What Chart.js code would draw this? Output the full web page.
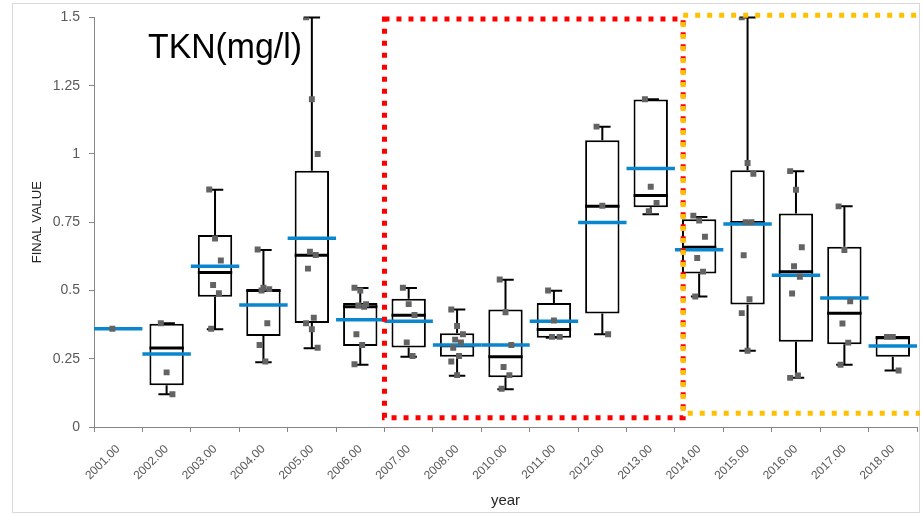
<!DOCTYPE html>
<html>
<head>
<meta charset="utf-8">
<script src="https://cdn.jsdelivr.net/npm/chart.js@4.4.1/dist/chart.umd.min.js"></script>
<style>
  html, body { margin: 0; padding: 0; background: #fff; }
  #wrap { width: 922px; height: 514px; }
</style>
</head>
<body>
<div id="wrap"><canvas id="tknChart" width="922" height="514"></canvas></div>
<script>
// categories (no 2009 in the source data)
const years = ['2001.00', '2002.00', '2003.00', '2004.00', '2005.00', '2006.00', '2007.00', '2008.00',
    '2010.00', '2011.00', '2012.00', '2013.00', '2014.00', '2015.00', '2016.00', '2017.00', '2018.00'];

// box statistics per year
const q1 =          [null, 0.153, 0.477, 0.333, 0.381, 0.297, 0.291, 0.257, 0.182, 0.327, 0.416, 0.805, 0.562, 0.449, 0.312, 0.303, 0.257];
const q3 =          [null, 0.378, 0.703, 0.502, 0.938, 0.454, 0.470, 0.343, 0.430, 0.454, 1.050, 1.199, 0.761, 0.940, 0.782, 0.660, 0.328];
const medians =     [null, 0.289, 0.566, 0.500, 0.629, 0.440, 0.409, 0.298, 0.257, 0.357, 0.808, 0.848, 0.658, 0.749, 0.569, 0.417, 0.328];
const means =       [0.36, 0.267, 0.589, 0.447, 0.691, 0.393, 0.387, 0.300, 0.300, 0.387, 0.749, 0.947, 0.649, 0.743, 0.556, 0.472, 0.297];
const whiskerLow =  [null, 0.120, 0.358, 0.237, 0.288, 0.228, 0.257, 0.188, 0.138, 0.327, 0.340, 0.779, 0.478, 0.279, 0.180, 0.228, 0.207];
const whiskerHigh = [null, 0.380, 0.869, 0.648, 1.500, 0.509, 0.509, 0.430, 0.539, 0.499, 1.100, 1.200, 0.769, 1.500, 0.937, 0.808, 0.328];

// individual measurements per year
const samples = [
    [0.36],
    [0.38, 0.20, 0.12],
    [0.87, 0.69, 0.61, 0.52, 0.49, 0.36],
    [0.65, 0.51, 0.505, 0.50, 0.38, 0.30, 0.24],
    [1.50, 1.20, 1.00, 0.642, 0.63, 0.58, 0.40, 0.38, 0.358, 0.29],
    [0.51, 0.50, 0.45, 0.445, 0.44, 0.34, 0.30, 0.23],
    [0.51, 0.45, 0.41, 0.31, 0.26],
    [0.43, 0.37, 0.34, 0.32, 0.31, 0.29, 0.26, 0.24, 0.19],
    [0.54, 0.42, 0.30, 0.22, 0.19, 0.14],
    [0.50, 0.39, 0.33, 0.33],
    [1.10, 0.81, 0.34],
    [1.20, 0.88, 0.82, 0.79],
    [0.774, 0.756, 0.697, 0.619, 0.569, 0.478],
    [1.50, 0.967, 0.927, 0.75, 0.75, 0.629, 0.468, 0.417, 0.279],
    [0.937, 0.869, 0.658, 0.589, 0.55, 0.489, 0.189, 0.18],
    [0.808, 0.648, 0.46, 0.379, 0.309, 0.228],
    [0.33, 0.33, 0.207]
];

// y axis ticks
const yTicks = [0, 0.25, 0.5, 0.75, 1, 1.25, 1.5];
const yTickLabels = ['0', '0.25', '0.5', '0.75', '1', '1.25', '1.5'];

// highlighted periods (category index / value units)
const redPeriod = { xFrom: 5.5, xTo: 11.67, yFrom: 0.034, yTo: 1.494 };
const yellowPeriod = { xFrom: 11.67, xTo: 17.2, yFrom: 0.05, yTo: 1.508 };

const BOX_PCT = 0.71;
const FONT = "'Liberation Sans', Arial, sans-serif";

function jitter(k) {
    return ((k * 3) % 7 - 3) * 0.04;
}

const scatterData = [];
samples.forEach((vals, i) => {
    vals.forEach((v, k) => scatterData.push({ x: i + jitter(k), y: v }));
});

const boxPlugin = {
    id: 'boxExtras',
    beforeDraw(chart) {
        const ctx = chart.ctx;
        ctx.save();
        ctx.strokeStyle = '#d9d9d9';
        ctx.lineWidth = 1;
        ctx.strokeRect(12.5, 3.5, 907, 509);
        ctx.restore();
    },
    afterDatasetDraw(chart, args) {
        if (args.index !== 0) return;
        const ctx = chart.ctx;
        const xs = chart.scales.x, ys = chart.scales.y;
        const cat = xs.getPixelForValue(1) - xs.getPixelForValue(0);
        const halfBox = cat * BOX_PCT / 2;
        const halfCap = cat * 0.17;
        ctx.save();
        ctx.lineCap = 'butt';
        years.forEach((_, i) => {
            const cx = xs.getPixelForValue(i);
            // whiskers
            ctx.strokeStyle = '#000';
            ctx.lineWidth = 2;
            if (whiskerHigh[i] != null && q3[i] != null) {
                const yTop = ys.getPixelForValue(whiskerHigh[i]);
                ctx.beginPath();
                ctx.moveTo(cx, ys.getPixelForValue(q3[i]));
                ctx.lineTo(cx, yTop);
                ctx.moveTo(cx - halfCap, yTop);
                ctx.lineTo(cx + halfCap, yTop);
                ctx.stroke();
            }
            if (whiskerLow[i] != null && q1[i] != null) {
                const yBot = ys.getPixelForValue(whiskerLow[i]);
                ctx.beginPath();
                ctx.moveTo(cx, ys.getPixelForValue(q1[i]));
                ctx.lineTo(cx, yBot);
                ctx.moveTo(cx - halfCap, yBot);
                ctx.lineTo(cx + halfCap, yBot);
                ctx.stroke();
            }
            // median
            if (medians[i] != null) {
                const ym = ys.getPixelForValue(medians[i]);
                ctx.lineWidth = 3;
                ctx.beginPath();
                ctx.moveTo(cx - halfBox, ym);
                ctx.lineTo(cx + halfBox, ym);
                ctx.stroke();
            }
            // mean
            if (means[i] != null) {
                const ya = ys.getPixelForValue(means[i]);
                ctx.strokeStyle = '#0a86cf';
                ctx.lineWidth = 3.5;
                ctx.beginPath();
                ctx.moveTo(cx - cat / 2, ya);
                ctx.lineTo(cx + cat / 2, ya);
                ctx.stroke();
            }
        });
        ctx.restore();
    },
    afterDatasetsDraw(chart) {
        const ctx = chart.ctx;
        const xs = chart.scales.x2, ys = chart.scales.y;
        ctx.save();
        ctx.beginPath();
        ctx.rect(0, 0, 920, 514);
        ctx.clip();
        ctx.lineWidth = 5;
        ctx.setLineDash([5, 7]);
        [[redPeriod, '#ff0000'], [yellowPeriod, '#ffc000']].forEach(([p, color]) => {
            const x0 = xs.getPixelForValue(p.xFrom), x1 = xs.getPixelForValue(p.xTo);
            const y0 = ys.getPixelForValue(p.yTo), y1 = ys.getPixelForValue(p.yFrom);
            ctx.strokeStyle = color;
            ctx.strokeRect(x0, y0, x1 - x0, y1 - y0);
        });
        ctx.restore();

        // title inside the plot
        ctx.save();
        ctx.fillStyle = '#000';
        ctx.font = "35px " + FONT;
        ctx.textAlign = 'left';
        ctx.textBaseline = 'alphabetic';
        ctx.fillText('TKN(mg/l)', 148, 58, 154);
        ctx.restore();
    }
};

const ctx = document.getElementById('tknChart').getContext('2d');
new Chart(ctx, {
    type: 'bar',
    data: {
        labels: years,
        datasets: [
            {
                type: 'bar',
                data: years.map((_, i) => q1[i] == null ? null : [q1[i], q3[i]]),
                backgroundColor: '#ffffff',
                borderColor: '#000000',
                borderWidth: 2,
                borderSkipped: false,
                barPercentage: BOX_PCT,
                categoryPercentage: 1,
                grouped: false,
                order: 1
            },
            {
                type: 'scatter',
                xAxisID: 'x2',
                yAxisID: 'y',
                data: scatterData,
                pointStyle: 'rect',
                pointRadius: 4.2,
                backgroundColor: '#636363',
                borderWidth: 0,
                order: 0
            }
        ]
    },
    options: {
        responsive: false,
        animation: false,
        events: [],
        layout: { padding: { left: 26, top: 15, right: 5, bottom: 0 } },
        plugins: {
            legend: { display: false },
            tooltip: { enabled: false }
        },
        scales: {
            x: {
                offset: true,
                grid: { display: true, drawOnChartArea: false, offset: true, tickLength: 5, color: '#868686' },
                border: { color: '#868686' },
                ticks: { minRotation: 45, maxRotation: 45, autoSkip: false, padding: 10, color: '#595959', font: { size: 12, family: FONT } },
                title: { display: true, text: 'year', color: '#262626', font: { size: 15, family: FONT } },
                afterFit: s => { s.height = 87; }
            },
            x2: {
                type: 'linear',
                display: false,
                offset: false,
                min: -0.5,
                max: years.length - 0.5
            },
            y: {
                min: 0,
                max: 1.5,
                afterBuildTicks: s => { s.ticks = yTicks.map(v => ({ value: v })); },
                ticks: { padding: 9, color: '#595959', font: { size: 14, family: FONT }, callback: (v, i) => yTickLabels[i] },
                grid: { display: true, drawOnChartArea: false, tickLength: 5, color: '#868686' },
                border: { color: '#868686' },
                title: { display: true, text: 'FINAL VALUE', color: '#262626', font: { size: 13, family: FONT } },
                afterFit: s => { s.width = 68; }
            }
        }
    },
    plugins: [boxPlugin]
});
</script>
</body>
</html>
